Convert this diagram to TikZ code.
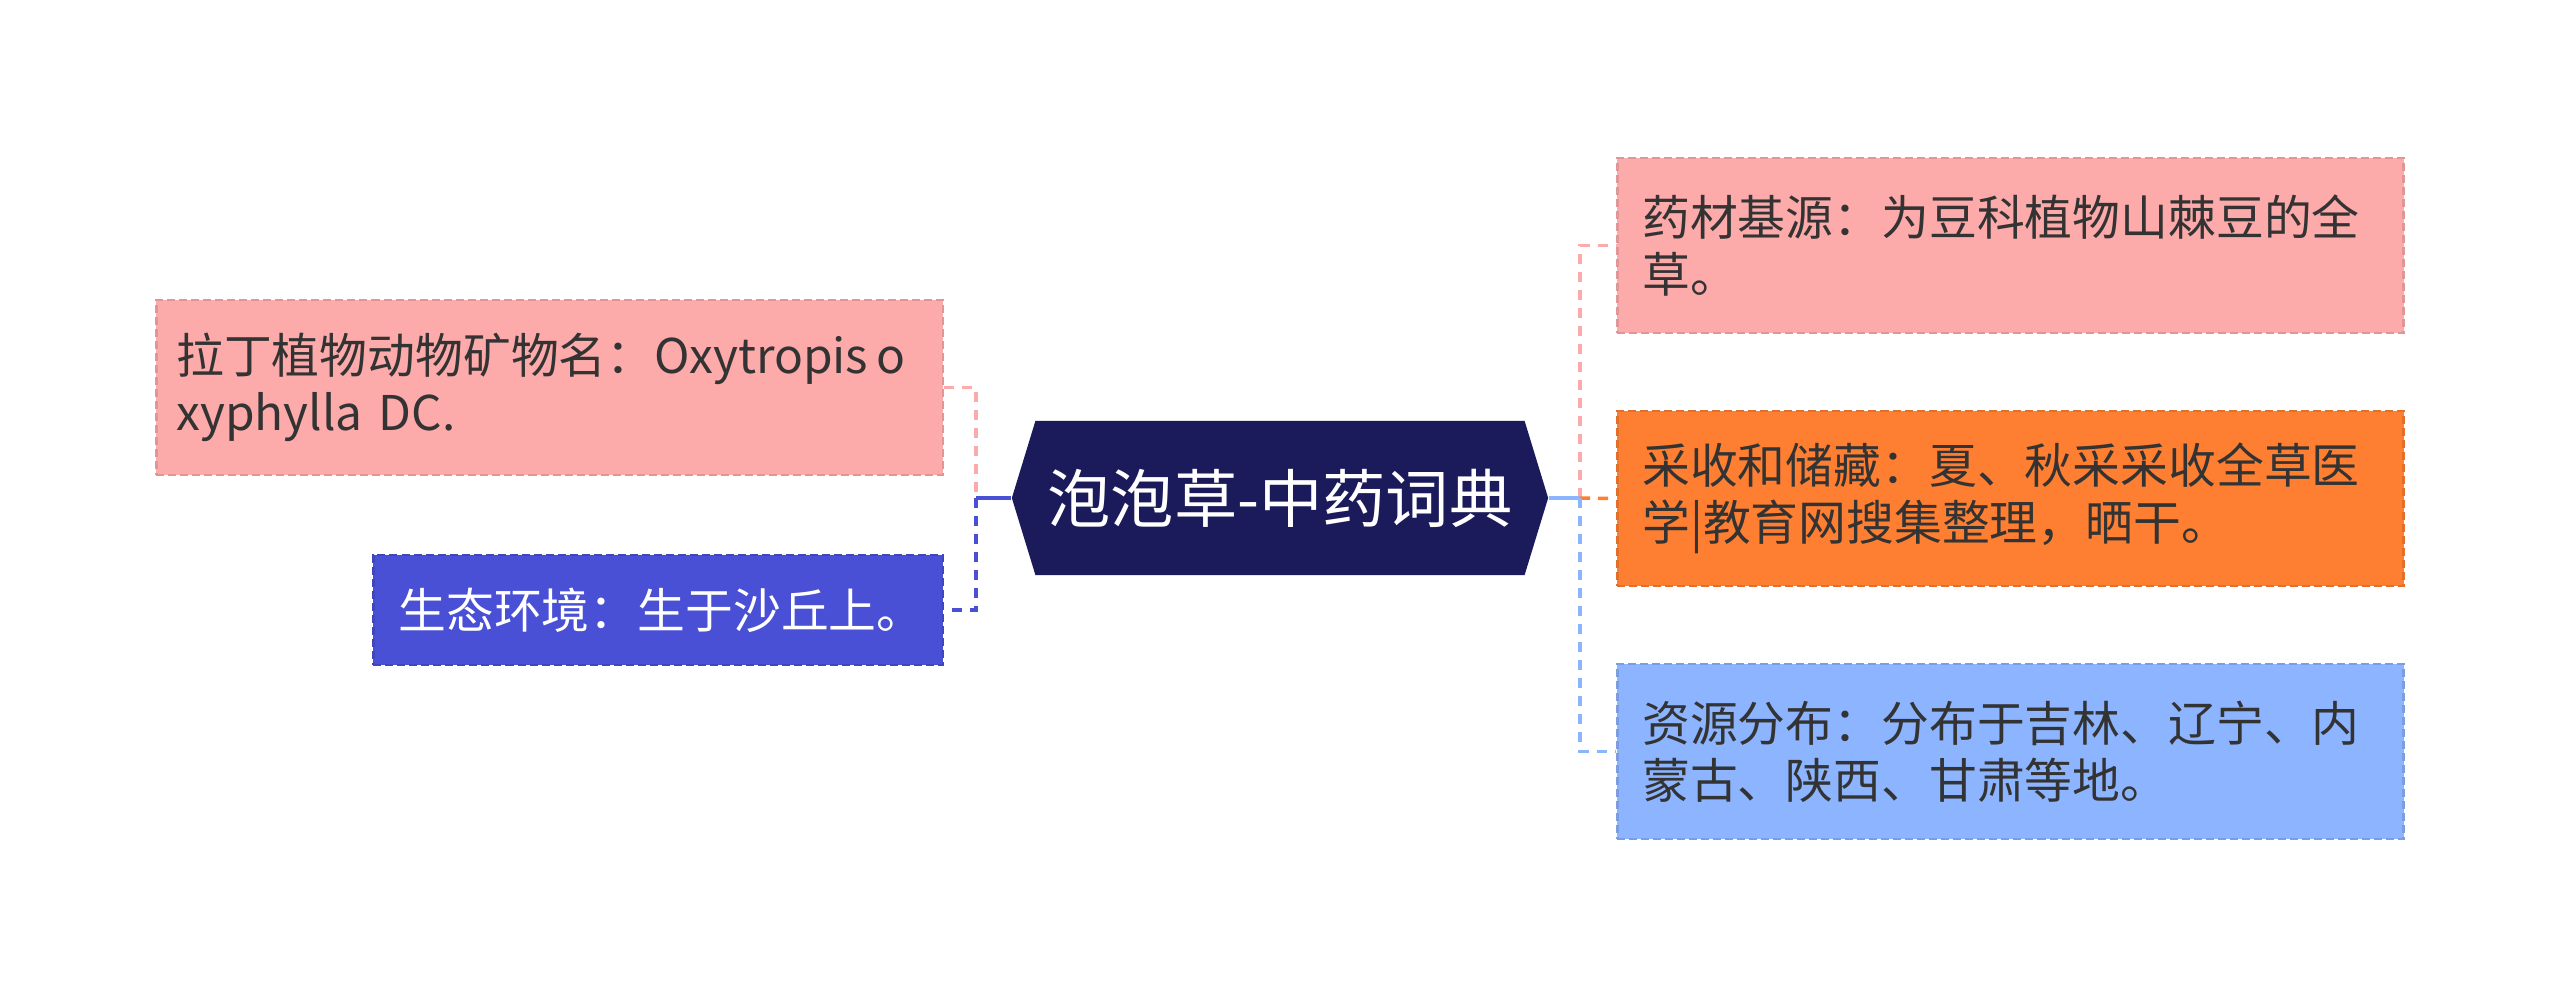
\documentclass[tikz,border=0pt]{standalone}
\usepackage{fontspec}
\setmainfont{Noto Sans CJK SC}
\usepackage{tikz}
\usetikzlibrary{shapes.symbols}

\definecolor{rosefill}{HTML}{FDAAAA}
\definecolor{orangefill}{HTML}{FF7F32}
\definecolor{skyfill}{HTML}{8CB4FF}
\definecolor{indigofill}{HTML}{4950D6}
\definecolor{navyfill}{HTML}{1B1A5A}
\definecolor{darktext}{HTML}{333333}

\tikzset{
	leaf/.style={draw=#1!88!black, fill=#1, line width=0.025cm,
		dash pattern=on 0.08cm off 0.04cm, text=darktext,
		minimum width=7.86cm, minimum height=1.75cm, inner xsep=0.25cm,
		text width=7.36cm, align=left,
		font=\fontsize{13.6pt}{16.3pt}\selectfont},
	link/.style={draw=#1, line width=0.035cm, dash pattern=on 0.1cm off 0.08cm},
	rootbox/.style={shape=signal, signal to=west and east, signal pointer angle=146,
		fill=navyfill, text=white, minimum width=5.36cm, minimum height=1.54cm,
		inner sep=0pt, font=\fontsize{18pt}{21pt}\selectfont}
}

\begin{document}
\begin{tikzpicture}[x=0.01cm, y=-0.01cm]
			\useasboundingbox (0,0) rectangle (2560,997);
			\node[rootbox] (root) at (1280, 498) {泡泡草-中药词典};
			\coordinate (ltrunk) at (976, 498);
			\coordinate (rtrunk) at (1580, 498);
			% left side
			\node[leaf=rosefill, anchor=east, inner xsep=0.2cm, text width=7.46cm]
				(latin) at (944, 387.5)
				{拉丁植物动物矿物名：Oxytropis\,o\\xyphylla DC.};
			\node[leaf=indigofill, anchor=east, text=white, minimum width=5.69cm,
				text width=5.19cm, minimum height=1.1cm] (habitat) at (944, 610)
				{生态环境：生于沙丘上。};
			% right side
			\node[leaf=rosefill, anchor=west] (source) at (1616, 245.5)
				{药材基源：为豆科植物山棘豆的全\\草。};
			\node[leaf=orangefill, anchor=west] (harvest) at (1616, 498.5)
				{采收和储藏：夏、秋采采收全草医\\学|教育网搜集整理，晒干。};
			\node[leaf=skyfill, anchor=west] (spread) at (1616, 751.5)
				{资源分布：分布于吉林、辽宁、内\\蒙古、陕西、甘肃等地。};
			\draw[link=rosefill] (latin.east) -| (ltrunk);
			\draw[link=indigofill] (ltrunk) |- (habitat.east);
			\draw[link=indigofill, solid] (root.west) -- (ltrunk);
			\draw[link=rosefill] (rtrunk) |- (source.west);
			\draw[link=orangefill] (rtrunk) -- (harvest.west);
			\draw[link=skyfill] (rtrunk) |- (spread.west);
			\draw[link=skyfill, solid] (root.east) -- (rtrunk);
		\end{tikzpicture}
\end{document}
